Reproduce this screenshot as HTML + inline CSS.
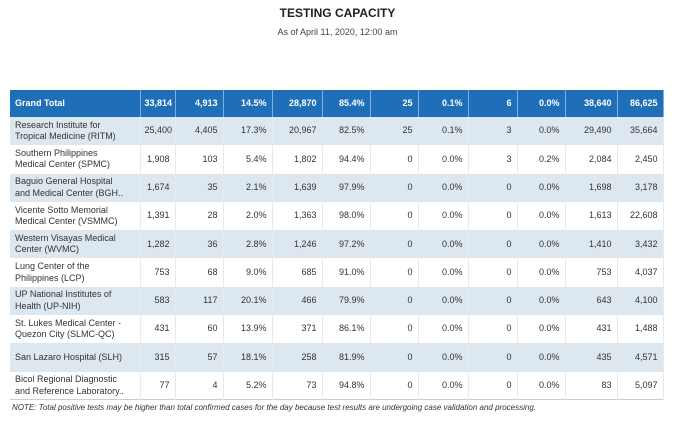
<!DOCTYPE html>
<html><head><style>
body{margin:0;width:675px;height:424px;background:#fff;font-family:"Liberation Sans",sans-serif;color:#333;overflow:hidden;position:relative}
.t{position:absolute;top:6px;left:0;width:675px;text-align:center;font-weight:bold;font-size:12px;color:#222}
.s{position:absolute;top:27px;left:0;width:675px;text-align:center;font-size:9px;color:#444}
table{position:absolute;left:10px;top:90px;width:653px;border-collapse:collapse;font-size:9px;table-layout:fixed;border-bottom:1px solid #ccc}
td{height:28.3px;padding:0 5px 0 4px;text-align:right;border-right:1px solid #e6eaee;box-sizing:border-box;line-height:11.5px;overflow:hidden;white-space:nowrap}
td:first-child{text-align:left;padding-left:5px}
tr.h td{background:#1f6fb8;color:#fff;font-weight:bold;border-right:1px solid #7fb0dc;height:27px}
tr:nth-child(even) td{background:#dde7ef}
.n{position:absolute;top:403px;left:12px;font-size:8px;font-style:italic;color:#333}
</style></head><body>
<div class="t">TESTING CAPACITY</div>
<div class="s">As of April 11, 2020, 12:00 am</div>
<table>
<colgroup><col style="width:130px"><col style="width:35px"><col style="width:48px"><col style="width:49px"><col style="width:50px"><col style="width:48px"><col style="width:48px"><col style="width:50px"><col style="width:49px"><col style="width:48px"><col style="width:52px"><col style="width:46px"></colgroup>
<tr class="h"><td>Grand Total</td><td>33,814</td><td>4,913</td><td>14.5%</td><td>28,870</td><td>85.4%</td><td>25</td><td>0.1%</td><td>6</td><td>0.0%</td><td>38,640</td><td>86,625</td></tr>
<tr><td>Research Institute for<br>Tropical Medicine (RITM)</td><td>25,400</td><td>4,405</td><td>17.3%</td><td>20,967</td><td>82.5%</td><td>25</td><td>0.1%</td><td>3</td><td>0.0%</td><td>29,490</td><td>35,664</td></tr>
<tr><td>Southern Philippines<br>Medical Center (SPMC)</td><td>1,908</td><td>103</td><td>5.4%</td><td>1,802</td><td>94.4%</td><td>0</td><td>0.0%</td><td>3</td><td>0.2%</td><td>2,084</td><td>2,450</td></tr>
<tr><td>Baguio General Hospital<br>and Medical Center (BGH..</td><td>1,674</td><td>35</td><td>2.1%</td><td>1,639</td><td>97.9%</td><td>0</td><td>0.0%</td><td>0</td><td>0.0%</td><td>1,698</td><td>3,178</td></tr>
<tr><td>Vicente Sotto Memorial<br>Medical Center (VSMMC)</td><td>1,391</td><td>28</td><td>2.0%</td><td>1,363</td><td>98.0%</td><td>0</td><td>0.0%</td><td>0</td><td>0.0%</td><td>1,613</td><td>22,608</td></tr>
<tr><td>Western Visayas Medical<br>Center (WVMC)</td><td>1,282</td><td>36</td><td>2.8%</td><td>1,246</td><td>97.2%</td><td>0</td><td>0.0%</td><td>0</td><td>0.0%</td><td>1,410</td><td>3,432</td></tr>
<tr><td>Lung Center of the<br>Philippines (LCP)</td><td>753</td><td>68</td><td>9.0%</td><td>685</td><td>91.0%</td><td>0</td><td>0.0%</td><td>0</td><td>0.0%</td><td>753</td><td>4,037</td></tr>
<tr><td>UP National Institutes of<br>Health (UP-NIH)</td><td>583</td><td>117</td><td>20.1%</td><td>466</td><td>79.9%</td><td>0</td><td>0.0%</td><td>0</td><td>0.0%</td><td>643</td><td>4,100</td></tr>
<tr><td>St. Lukes Medical Center -<br>Quezon City (SLMC-QC)</td><td>431</td><td>60</td><td>13.9%</td><td>371</td><td>86.1%</td><td>0</td><td>0.0%</td><td>0</td><td>0.0%</td><td>431</td><td>1,488</td></tr>
<tr><td>San Lazaro Hospital (SLH)</td><td>315</td><td>57</td><td>18.1%</td><td>258</td><td>81.9%</td><td>0</td><td>0.0%</td><td>0</td><td>0.0%</td><td>435</td><td>4,571</td></tr>
<tr><td>Bicol Regional Diagnostic<br>and Reference Laboratory..</td><td>77</td><td>4</td><td>5.2%</td><td>73</td><td>94.8%</td><td>0</td><td>0.0%</td><td>0</td><td>0.0%</td><td>83</td><td>5,097</td></tr>
</table>
<div class="n">NOTE: Total positive tests may be higher than total confirmed cases for the day because test results are undergoing case validation and processing.</div>
</body></html>
